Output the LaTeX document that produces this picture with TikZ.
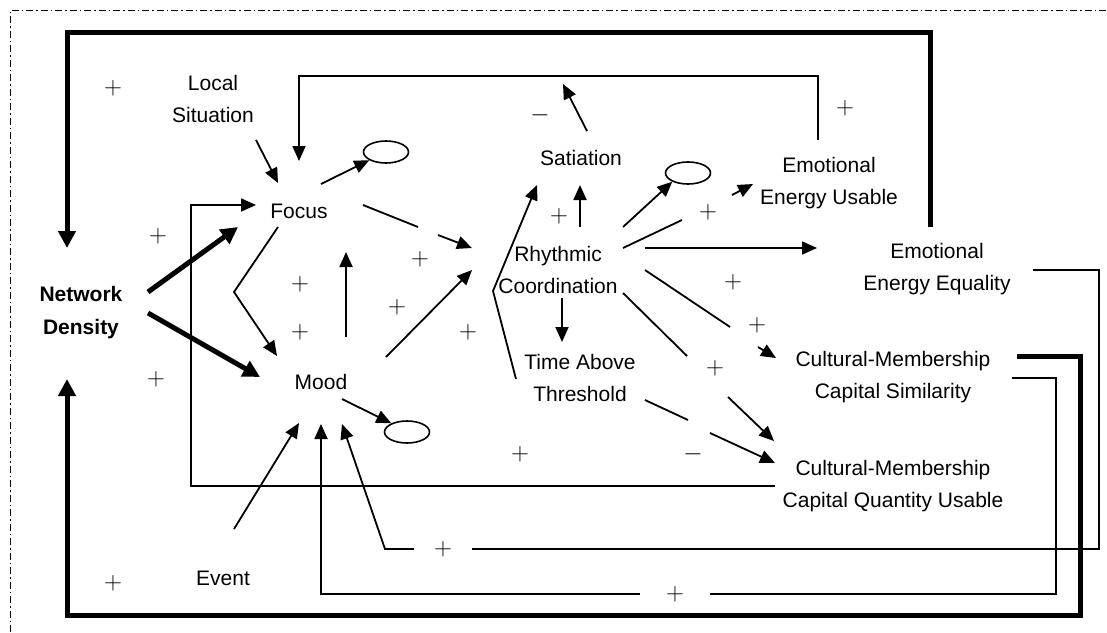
\documentclass[tikz,border=0pt]{standalone}
\usepackage{fontspec}
\setmainfont{Liberation Sans}
\usetikzlibrary{arrows.meta,calc,shapes.geometric}
\begin{document}
\begin{tikzpicture}[x=1pt,y=-1pt,
  txt/.style={font=\fontsize{21}{32}\selectfont, align=center, inner sep=0pt},
  sign/.style={font=\fontsize{25}{32}\selectfont, inner sep=1pt},
  onl/.style={sign, fill=white, inner xsep=20pt, inner ysep=4pt},
  ln/.style={line width=1.8pt},
  arr/.style={line width=1.8pt, -{Triangle[length=15pt,width=13pt]}},
  tarr/.style={line width=5pt, -{Triangle[length=17pt,width=17pt]}},
  tln/.style={line width=5pt},
  ell/.style={draw, ellipse, line width=1.6pt, minimum width=45pt, minimum height=22pt, inner sep=0pt}]
\useasboundingbox (0,0) rectangle (1107,632);
\draw[line width=1pt, dash pattern=on 7pt off 3pt on 1.5pt off 3pt] (10,632) -- (10,10) -- (1107,10);

% nodes
\node[txt] (ls) at (213,99) {Local\\Situation};
\node[txt] (focus) at (299,211) {Focus};
\node[txt, font=\fontsize{21}{33}\selectfont\bfseries] (nd) at (81,313) {Network\\Density};
\node[txt] (mood) at (321,382) {Mood};
\node[txt] (event) at (223,578) {Event};
\node[txt] (sat) at (581,158) {Satiation};
\node[txt] (rc) at (558,270) {Rhythmic\\Coordination};
\node[txt] (tat) at (580,378) {Time Above\\Threshold};
\node[txt] (eeu) at (829,183) {Emotional\\Energy Usable};
\node[txt] (eee) at (937,269) {Emotional\\Energy Equality};
\node[txt] (cms) at (893,377) {Cultural-Membership\\Capital Similarity};
\node[txt] (cmq) at (893,486) {Cultural-Membership\\Capital Quantity Usable};
\node[ell] (e1) at (386,152) {};
\node[ell] (e2) at (688,173) {};
\node[ell] (e3) at (407,432) {};
\coordinate (satend) at (563,84);

% thick feedback loops
\draw[tln, -{Triangle[length=17pt,width=17pt]}] ($(eee)+(-7,-42)$) -- (930,32) -| ($(nd)+(-14,-65)$);
\draw[tln, -{Triangle[length=17pt,width=17pt]}] ($(cms)+(124,-21)$) -- (1080,356) -- (1080,615) -| ($(nd)+(-14,66)$);

% thin feedback loops
\draw[arr] ($(eeu)+(-11,-43)$) -- (818,76) -| ($(focus)+(0,-50)$);
\draw[arr] ($(cmq)+(-118,0)$) -- (191,486) |- ($(focus)+(-43,-6)$);
\draw[arr] ($(eee)+(96,1)$) -| (1099,549) -- (385,549) -- ($(mood)+(21,42)$);
\draw[arr] ($(cms)+(119,1)$) -| (1056,594) -| ($(mood)+(0,42)$);
\node[onl] at (443,549) {$+$};
\node[onl, inner xsep=26pt] at (675,594) {$+$};

% thick arrows from network density
\draw[tarr] ($(nd)+(67,-21)$) -- ($(focus)+(-61,16)$);
\draw[tarr] ($(nd)+(67,0)$) -- ($(mood)+(-61,-5)$);

% arrows
\draw[arr] ($(ls)+(43,41)$) -- ($(focus)+(-21,-28)$);
\draw[arr] ($(focus)+(22,-27)$) -- (e1.206);
\draw[ln] ($(focus)+(64,-6)$) -- ($(focus)+(119,16)$);
\draw[arr] ($(focus)+(139,24)$) -- ($(rc)+(-86,-22)$);
\draw[arr] ($(focus)+(-21,16)$) -- (234,292) -- ($(mood)+(-44,-26)$);
\draw[arr] ($(mood)+(25,-45)$) -- ($(focus)+(47,41)$);
\draw[arr] ($(mood)+(65,-25)$) -- ($(rc)+(-86,0)$);
\draw[arr] ($(mood)+(21,17)$) -- (e3.151);
\draw[arr] ($(event)+(11,-49)$) -- ($(mood)+(-22,41)$);
\draw[arr] ($(tat)+(-64,1)$) -- (493,291) -- ($(sat)+(-44,27)$);
\draw[arr] ($(rc)+(22,-43)$) -- ($(sat)+(-1,27)$);
\draw[arr] ($(sat)+(6,-27)$) -- (satend);
\draw[arr] ($(rc)+(65,-43)$) -- (e2.209);
\draw[ln] ($(rc)+(65,-22)$) -- ($(rc)+(124,-50)$);
\draw[arr] ($(eeu)+(-97,12)$) -- ($(eeu)+(-76,1)$);
\draw[arr] ($(rc)+(87,-22)$) -- ($(eee)+(-120,-21)$);
\draw[ln] ($(rc)+(87,0)$) -- ($(rc)+(172,57)$);
\draw[arr] ($(cms)+(-135,-30)$) -- ($(cms)+(-117,-19)$);
\draw[ln] ($(rc)+(65,23)$) -- ($(rc)+(129,86)$);
\draw[arr] ($(cmq)+(-165,-89)$) -- ($(cmq)+(-119,-45)$);
\draw[arr] ($(rc)+(4,28)$) -- ($(tat)+(-18,-36)$);
\draw[ln] ($(tat)+(65,22)$) -- ($(tat)+(108,42)$);
\draw[arr] ($(cmq)+(-183,-53)$) -- ($(cmq)+(-118,-23)$);

% signs
\node[sign] at (113,88) {$+$};
\node[sign] at (158,236) {$+$};
\node[sign] at (156,379) {$+$};
\node[sign] at (113,583) {$+$};
\node[sign] at (300,284) {$+$};
\node[sign] at (300,332) {$+$};
\node[sign] at (420,259) {$+$};
\node[sign] at (397,307) {$+$};
\node[sign] at (468,332) {$+$};
\node[sign] at (559,216) {$+$};
\node[sign] at (540,115) {$-$};
\node[sign] at (845,108) {$+$};
\node[sign] at (708,212) {$+$};
\node[sign] at (733,282) {$+$};
\node[sign] at (757,325) {$+$};
\node[sign] at (715,368) {$+$};
\node[sign] at (520,454) {$+$};
\node[sign] at (693,454) {$-$};
\end{tikzpicture}
\end{document}
